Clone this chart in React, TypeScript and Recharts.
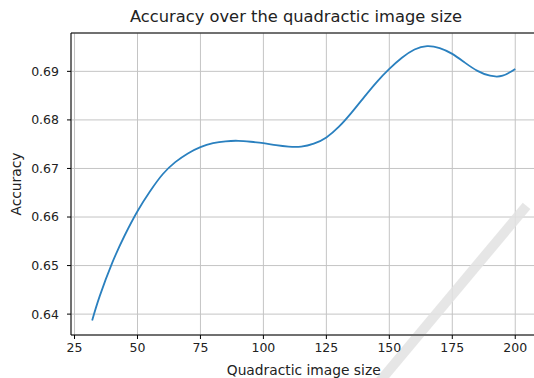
import {
  CartesianGrid,
  Line,
  LineChart,
  ReferenceLine,
  XAxis,
  YAxis,
} from "recharts"

const imageSizes = [
  32, 35, 40, 45, 50, 55, 60, 65, 70, 75, 80, 85, 90, 95, 100, 105, 110, 115,
  120, 125, 130, 135, 140, 145, 150, 155, 160, 165, 170, 175, 180, 185, 190, 195, 200,
]
const accuracy = [
  0.6387, 0.6437, 0.6506, 0.6563, 0.6612, 0.6653, 0.6688, 0.6713, 0.6731, 0.6744,
  0.6752, 0.6756, 0.6757, 0.6755, 0.6752, 0.6748, 0.6745, 0.6745, 0.6751, 0.6764,
  0.6786, 0.6815, 0.6847, 0.6878, 0.6905, 0.6928, 0.6945, 0.6952, 0.6948, 0.6936,
  0.6918, 0.6901, 0.6891, 0.6891, 0.6905,
]
const xTicks = [25, 50, 75, 100, 125, 150, 175, 200]
const yTicks = [0.64, 0.65, 0.66, 0.67, 0.68, 0.69]
const xDomain = [23.6, 208.4]
const yDomain = [0.6357, 0.6979]
// light diagonal stripe over the lower right corner of the screenshot
const stripe = [
  { x: 146.3, y: 0.6262 },
  { x: 204.5, y: 0.6623 },
]

const data = imageSizes.map((size, i) => ({ size, acc: accuracy[i] }))

const font = "'DejaVu Sans', sans-serif"
const tick = { fill: "#222", fontSize: 12.5, fontFamily: font }
const labelStyle = { fill: "#222", fontSize: 13.8, fontFamily: font }

export default function App() {
  return (
    <div
      style={{
        position: "fixed",
        left: 0,
        top: 0,
        width: 534,
        height: 378,
        overflow: "hidden",
        background: "#fff",
      }}
    >
      <div
        style={{
          position: "absolute",
          left: 0,
          width: 592,
          top: 7,
          textAlign: "center",
          fontFamily: font,
          fontSize: 16.3,
          color: "#222",
          whiteSpace: "nowrap",
        }}
      >
        Accuracy over the quadractic image size
      </div>
      <LineChart
        width={540}
        height={378}
        data={data}
        margin={{ top: 33, right: 3.6, bottom: 0, left: 0 }}
      >
        <CartesianGrid stroke="#c4c4c4" strokeWidth={1} />
        <XAxis
          dataKey="size"
          type="number"
          domain={xDomain}
          ticks={xTicks}
          allowDataOverflow
          height={43}
          tick={tick}
          tickSize={4}
          tickMargin={4}
          tickLine={{ stroke: "#000" }}
          axisLine={{ stroke: "#000" }}
          label={{
            value: "Quadractic image size",
            position: "insideBottom",
            offset: 3,
            style: labelStyle,
          }}
        />
        <YAxis
          type="number"
          domain={yDomain}
          ticks={yTicks}
          allowDataOverflow
          width={71}
          tick={tick}
          tickSize={4}
          tickMargin={8}
          tickLine={{ stroke: "#000" }}
          axisLine={{ stroke: "#000" }}
          tickFormatter={(v) => v.toFixed(2)}
          label={{
            value: "Accuracy",
            angle: -90,
            position: "insideLeft",
            offset: 16,
            style: { ...labelStyle, textAnchor: "middle" },
          }}
        />
        <ReferenceLine y={yDomain[1]} stroke="#000" strokeWidth={1} />
        <Line
          type="natural"
          dataKey="acc"
          stroke="#2a80bf"
          strokeWidth={1.8}
          dot={false}
          isAnimationActive={false}
        />
        <ReferenceLine
          segment={stripe}
          ifOverflow="visible"
          stroke="#e2e2e2"
          strokeOpacity={0.85}
          strokeWidth={10}
        />
      </LineChart>
    </div>
  )
}
